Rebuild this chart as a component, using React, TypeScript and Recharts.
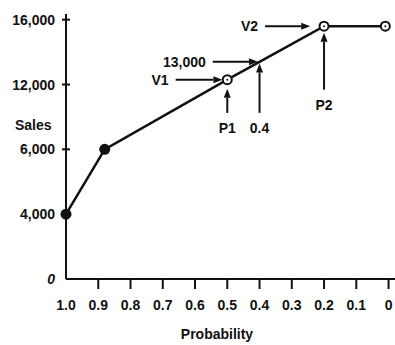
import React from 'react';
import { LineChart, Line, XAxis, YAxis, ReferenceLine, Label } from 'recharts';

// values
const probability = [1.0, 0.88, 0.5, 0.4, 0.2, 0.01];
const sales = [4000, 8000, 12300, 13400, 15600, 15600];
const markers = ['filled', 'filled', 'open', 'none', 'open', 'open'];

const xTicks = [1.0, 0.9, 0.8, 0.7, 0.6, 0.5, 0.4, 0.3, 0.2, 0.1, 0];
const xTickLabels = ['1.0', '0.9', '0.8', '0.7', '0.6', '0.5', '0.4', '0.3', '0.2', '0.1', '0'];
const yTicks = [0, 4000, 8000, 12000, 16000];
const yTickLabels = ['0', '4,000', '6,000', '12,000', '16,000'];

// annotation arrows: [prob, sales] start -> tip
const arrowText = ['V1', '13,000', 'V2', 'P1', '0.4', 'P2'];
const arrowFrom = [[0.66, 12300], [0.545, 13400], [0.383, 15600], [0.5, 10250], [0.4, 10250], [0.2, 11680]];
const arrowTo = [[0.515, 12300], [0.405, 13400], [0.243, 15600], [0.5, 11740], [0.4, 13300], [0.2, 15200]];

const data = probability.map((p, i) => ({ p, sales: sales[i], marker: markers[i] }));

const font = "'Liberation Sans', Arial, sans-serif";

const Dot = (props: any) => {
  const { cx, cy, payload, index } = props;
  if (payload.marker === 'filled') {
    return <circle key={index} cx={cx} cy={cy} r={5.5} fill="#111" />;
  }
  if (payload.marker === 'open') {
    return (
      <g key={index}>
        <circle cx={cx} cy={cy} r={4.5} fill="#fff" stroke="#111" strokeWidth={2} />
        <circle cx={cx} cy={cy} r={1} fill="#111" />
      </g>
    );
  }
  return <g key={index} />;
};

const XTick = (props: any) => {
  const { x, y, payload, index } = props;
  return (
    <g>
      {payload.value !== 1 && (
        <line x1={x} x2={x} y1={y - 1} y2={y + 10} stroke="#111" strokeWidth={2} />
      )}
      <text x={x} y={y + 26} textAnchor="middle" dominantBaseline="central"
        fontFamily={font} fontWeight="bold" fontSize={14} fill="#111">
        {xTickLabels[xTicks.indexOf(payload.value)] ?? index}
      </text>
    </g>
  );
};

const YTick = (props: any) => {
  const { x, y, payload } = props;
  const label = yTickLabels[yTicks.indexOf(payload.value)];
  return (
    <g>
      {payload.value !== 0 && (
        <line x1={x - 4} x2={x + 4} y1={y} y2={y} stroke="#111" strokeWidth={2} />
      )}
      <text x={x - 11} y={y} textAnchor="end" dominantBaseline="central"
        fontFamily={font} fontWeight="bold" fontSize={14} fill="#111"
        fontStyle={payload.value === 0 ? 'italic' : 'normal'}>
        {label}
      </text>
    </g>
  );
};

const arrowShape = (text: string) => (props: any) => {
  const { x1, y1, x2, y2 } = props;
  const dx = x2 - x1;
  const dy = y2 - y1;
  const len = Math.sqrt(dx * dx + dy * dy) || 1;
  const ux = dx / len;
  const uy = dy / len;
  const hl = 9;
  const hw = 3.5;
  const bx = x2 - ux * hl;
  const by = y2 - uy * hl;
  const horizontal = Math.abs(dx) > Math.abs(dy);
  return (
    <g>
      <line x1={x1} y1={y1} x2={bx} y2={by} stroke="#111" strokeWidth={2} />
      <polygon
        points={`${x2},${y2} ${bx - uy * hw},${by + ux * hw} ${bx + uy * hw},${by - ux * hw}`}
        fill="#111"
      />
      {horizontal ? (
        <text x={x1 - 7} y={y1} textAnchor="end" dominantBaseline="central"
          fontFamily={font} fontWeight="bold" fontSize={14} fill="#111">{text}</text>
      ) : (
        <text x={x1} y={y1 + 15} textAnchor="middle" dominantBaseline="central"
          fontFamily={font} fontWeight="bold" fontSize={14} fill="#111">{text}</text>
      )}
    </g>
  );
};

export default function App() {
  return (
    <div style={{ position: 'absolute', left: 0, top: 0, background: '#fff' }}>
      <LineChart width={395} height={345} data={data} margin={{ top: 14, right: 0, bottom: 26, left: 6 }}>
        <XAxis
          dataKey="p"
          type="number"
          domain={[-0.02, 1]}
          reversed
          ticks={xTicks}
          interval={0}
          height={40}
          axisLine={{ stroke: '#111', strokeWidth: 2 }}
          tickLine={false}
          tickSize={0}
          tickMargin={0}
          tick={<XTick />}
        >
          <Label
            content={(p: any) => (
              <text x={p.viewBox.x + 151} y={p.viewBox.y + 55} textAnchor="middle" dominantBaseline="central"
                fontFamily={font} fontWeight="bold" fontSize={14} fill="#111">Probability</text>
            )}
          />
        </XAxis>
        <YAxis
          type="number"
          domain={[0, 16350]}
          ticks={yTicks}
          interval={0}
          width={60}
          axisLine={{ stroke: '#111', strokeWidth: 2 }}
          tickLine={false}
          tickSize={0}
          tickMargin={0}
          tick={<YTick />}
        >
          <Label
            content={(p: any) => (
              <text x={p.viewBox.x + 9} y={125} textAnchor="start" dominantBaseline="central"
                fontFamily={font} fontWeight="bold" fontSize={14} fill="#111">Sales</text>
            )}
          />
        </YAxis>
        <Line
          type="linear"
          dataKey="sales"
          stroke="#111"
          strokeWidth={2.5}
          dot={Dot}
          activeDot={false}
          isAnimationActive={false}
        />
        {arrowText.map((t, i) => (
          <ReferenceLine
            key={t}
            segment={[
              { x: arrowFrom[i][0], y: arrowFrom[i][1] },
              { x: arrowTo[i][0], y: arrowTo[i][1] },
            ]}
            shape={arrowShape(t)}
          />
        ))}
      </LineChart>
    </div>
  );
}
